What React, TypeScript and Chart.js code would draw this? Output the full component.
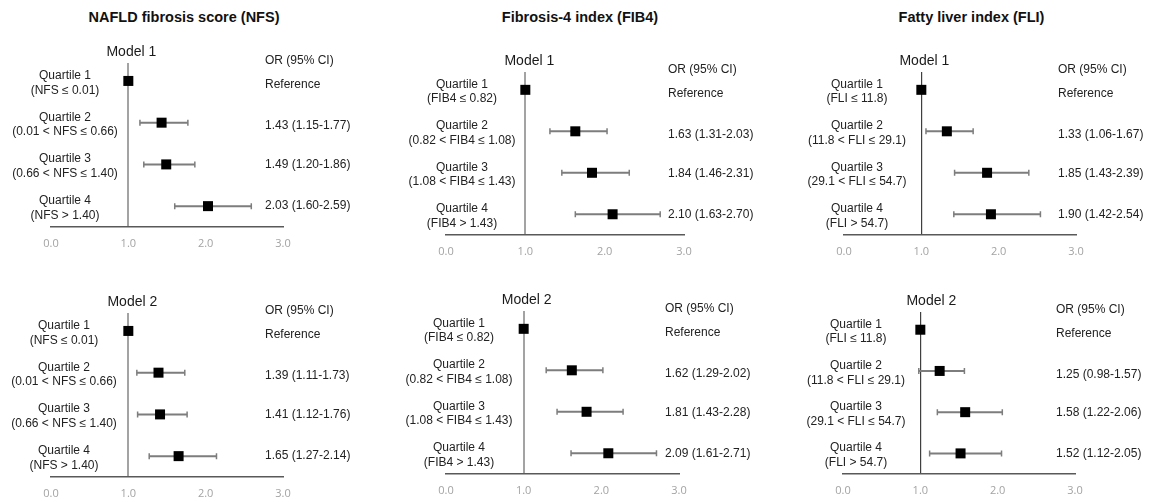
import React, { useEffect, useRef } from "react";
import { Chart, registerables } from "chart.js";

Chart.register(...registerables);

// ---------- data ----------
const quartileNames = ["Quartile 1", "Quartile 2", "Quartile 3", "Quartile 4"];
const nfsRanges = ["(NFS ≤ 0.01)", "(0.01 < NFS ≤ 0.66)", "(0.66 < NFS ≤ 1.40)", "(NFS > 1.40)"];
const fib4Ranges = ["(FIB4 ≤ 0.82)", "(0.82 < FIB4 ≤ 1.08)", "(1.08 < FIB4 ≤ 1.43)", "(FIB4 > 1.43)"];
const fliRanges = ["(FLI ≤ 11.8)", "(11.8 < FLI ≤ 29.1)", "(29.1 < FLI ≤ 54.7)", "(FLI > 54.7)"];

const nfsM1OR = [1.0, 1.43, 1.49, 2.03];
const nfsM1Low = [null, 1.15, 1.2, 1.6];
const nfsM1High = [null, 1.77, 1.86, 2.59];
const nfsM2OR = [1.0, 1.39, 1.41, 1.65];
const nfsM2Low = [null, 1.11, 1.12, 1.27];
const nfsM2High = [null, 1.73, 1.76, 2.14];

const fib4M1OR = [1.0, 1.63, 1.84, 2.1];
const fib4M1Low = [null, 1.31, 1.46, 1.63];
const fib4M1High = [null, 2.03, 2.31, 2.7];
const fib4M2OR = [1.0, 1.62, 1.81, 2.09];
const fib4M2Low = [null, 1.29, 1.43, 1.61];
const fib4M2High = [null, 2.02, 2.28, 2.71];

const fliM1OR = [1.0, 1.33, 1.85, 1.9];
const fliM1Low = [null, 1.06, 1.43, 1.42];
const fliM1High = [null, 1.67, 2.39, 2.54];
const fliM2OR = [1.0, 1.25, 1.58, 1.52];
const fliM2Low = [null, 0.98, 1.22, 1.12];
const fliM2High = [null, 1.57, 2.06, 2.05];

const groupTitles = ["NAFLD fibrosis score (NFS)", "Fibrosis-4 index (FIB4)", "Fatty liver index (FLI)"];
const modelTitles = ["Model 1", "Model 2"];
const orHeader = "OR (95% CI)";
const referenceText = "Reference";
const xMin = 0;
const xMax = 3;
const xStep = 1;

// ---------- layout / style ----------
const PADL = 60;
const PADR = 100;
const PADT = 30;
const XH = 28;
const PADB = 4;
const rowTextShift = [3.5, 3.5, 0.5, 0];
const FONT = "'Liberation Sans', Arial, sans-serif";

type Panel = {
  title: string;
  ranges: string[];
  or: number[];
  low: (number | null)[];
  high: (number | null)[];
  x0: number;
  x3: number;
  top: number;
  bottom: number;
  labelDx: number;
  orDx: number;
  modelDx: number;
  refColor: string;
  refWidth: number;
};

const GREY_REF = "#a3a3a3";
const DARK_REF = "#3f3f3f";

const panels: Panel[] = [
  { title: modelTitles[0], ranges: nfsRanges, or: nfsM1OR, low: nfsM1Low, high: nfsM1High, x0: 51, x3: 283, top: 63, bottom: 227, labelDx: 14, orDx: 18, modelDx: 3, refColor: GREY_REF, refWidth: 2 },
  { title: modelTitles[0], ranges: fib4Ranges, or: fib4M1OR, low: fib4M1Low, high: fib4M1High, x0: 446, x3: 684, top: 72, bottom: 235, labelDx: 16, orDx: 16, modelDx: 4, refColor: GREY_REF, refWidth: 2 },
  { title: modelTitles[0], ranges: fliRanges, or: fliM1OR, low: fliM1Low, high: fliM1High, x0: 844, x3: 1076, top: 72, bottom: 235, labelDx: 13, orDx: 18, modelDx: 3, refColor: DARK_REF, refWidth: 1.2 },
  { title: modelTitles[1], ranges: nfsRanges, or: nfsM2OR, low: nfsM2Low, high: nfsM2High, x0: 51, x3: 283, top: 313, bottom: 477, labelDx: 13, orDx: 18, modelDx: 4, refColor: GREY_REF, refWidth: 2 },
  { title: modelTitles[1], ranges: fib4Ranges, or: fib4M2OR, low: fib4M2Low, high: fib4M2High, x0: 446, x3: 679, top: 311, bottom: 474, labelDx: 13, orDx: 14, modelDx: 3, refColor: GREY_REF, refWidth: 2 },
  { title: modelTitles[1], ranges: fliRanges, or: fliM2OR, low: fliM2Low, high: fliM2High, x0: 843, x3: 1075, top: 312, bottom: 474, labelDx: 13, orDx: 19, modelDx: 11, refColor: DARK_REF, refWidth: 1.2 },
];

const headerCenters = [184, 580, 971.5];

function orLabel(p: Panel, i: number): string {
  const lo = p.low[i];
  const hi = p.high[i];
  if (lo == null || hi == null) return referenceText;
  return `${p.or[i].toFixed(2)} (${lo.toFixed(2)}-${hi.toFixed(2)})`;
}

function ForestPanel({ p }: { p: Panel }) {
  const ref = useRef<HTMLCanvasElement | null>(null);
  const width = p.x3 - p.x0 + PADL + PADR;
  const height = p.bottom - p.top + PADT + XH + PADB;

  useEffect(() => {
    if (!ref.current) return;
    const forestPlugin = {
      id: "forestExtras",
      beforeDatasetsDraw(chart: any) {
        const { ctx } = chart;
        const xs = chart.scales.x;
        const ys = chart.scales.y;
        ctx.save();
        ctx.strokeStyle = "#7d7d7d";
        p.low.forEach((lo, i) => {
          const hi = p.high[i];
          if (lo == null || hi == null) return;
          const y = ys.getPixelForValue(i);
          const xa = xs.getPixelForValue(lo);
          const xb = xs.getPixelForValue(hi);
          ctx.lineWidth = 2;
          ctx.beginPath();
          ctx.moveTo(xa, y);
          ctx.lineTo(xb, y);
          ctx.stroke();
          ctx.lineWidth = 1.5;
          ctx.beginPath();
          ctx.moveTo(xa, y - 3);
          ctx.lineTo(xa, y + 3);
          ctx.moveTo(xb, y - 3);
          ctx.lineTo(xb, y + 3);
          ctx.stroke();
        });
        ctx.restore();
      },
      afterDraw(chart: any) {
        const { ctx, chartArea } = chart;
        const xs = chart.scales.x;
        const ys = chart.scales.y;
        ctx.save();
        // Model title
        ctx.fillStyle = "#1a1a1a";
        ctx.font = `14px ${FONT}`;
        ctx.textAlign = "center";
        ctx.textBaseline = "alphabetic";
        ctx.fillText(p.title, xs.getPixelForValue(1) + p.modelDx, chartArea.top - 7);
        // Row labels
        ctx.fillStyle = "#222222";
        ctx.font = `12px ${FONT}`;
        ctx.textBaseline = "middle";
        const lx = chartArea.left + p.labelDx;
        quartileNames.forEach((q, i) => {
          const y = ys.getPixelForValue(i) + 2;
          ctx.fillText(q, lx, y - 7.3);
          ctx.fillText(p.ranges[i], lx, y + 7.3);
        });
        // OR column
        ctx.textAlign = "left";
        const ox = chartArea.right - p.orDx;
        ctx.fillText(orHeader, ox, ys.getPixelForValue(0) - 20);
        p.or.forEach((_, i) => {
          ctx.fillText(orLabel(p, i), ox, ys.getPixelForValue(i) + rowTextShift[i]);
        });
        ctx.restore();
      },
    };

    const chart = new Chart(ref.current, {
      type: "scatter",
      data: {
        datasets: [
          {
            data: p.or.map((v, i) => ({ x: v, y: i })),
            pointStyle: "rect",
            pointRadius: 7.07,
            pointHoverRadius: 7.07,
            backgroundColor: "#000000",
            borderColor: "#000000",
            borderWidth: 0,
          },
        ],
      },
      options: {
        animation: false,
        responsive: false,
        maintainAspectRatio: false,
        events: [],
        layout: { padding: { left: PADL, right: PADR, top: PADT, bottom: PADB } },
        plugins: {
          legend: { display: false },
          tooltip: { enabled: false },
          title: { display: false },
        },
        scales: {
          x: {
            type: "linear",
            min: xMin,
            max: xMax,
            ticks: {
              stepSize: xStep,
              callback: (v: any) => Number(v).toFixed(1),
              color: "#a3a3a3",
              font: { family: "'Open Sans', sans-serif", size: 11 },
              padding: 10,
              maxRotation: 0,
              autoSkip: false,
            },
            grid: {
              drawTicks: false,
              color: (c: any) => (c.tick && c.tick.value === 1 ? p.refColor : "rgba(0,0,0,0)"),
              lineWidth: (c: any) => (c.tick && c.tick.value === 1 ? p.refWidth : 1),
            },
            border: { display: true, color: "#595959", width: 1.5 },
            afterFit: (s: any) => {
              s.height = XH;
            },
          },
          y: {
            type: "linear",
            display: false,
            reverse: true,
            min: -0.43,
            max: 3.5,
          },
        },
      },
      plugins: [forestPlugin],
    } as any);
    return () => chart.destroy();
  }, []);

  return (
    <canvas
      ref={ref}
      width={width}
      height={height}
      style={{
        position: "absolute",
        left: p.x0 - PADL,
        top: p.top - PADT,
        width,
        height,
      }}
    />
  );
}

export default function App() {
  return (
    <div
      style={{
        position: "absolute",
        left: 0,
        top: 0,
        width: 1159,
        height: 502,
        background: "#ffffff",
        overflow: "hidden",
      }}
    >
      {groupTitles.map((t, i) => (
        <div
          key={t}
          style={{
            position: "absolute",
            left: headerCenters[i] - 160,
            width: 320,
            top: 9,
            textAlign: "center",
            fontFamily: FONT,
            fontWeight: "bold",
            fontSize: 14.5,
            lineHeight: "16px",
            color: "#111111",
            whiteSpace: "nowrap",
          }}
        >
          {t}
        </div>
      ))}
      {panels.map((p, i) => (
        <ForestPanel key={i} p={p} />
      ))}
    </div>
  );
}
